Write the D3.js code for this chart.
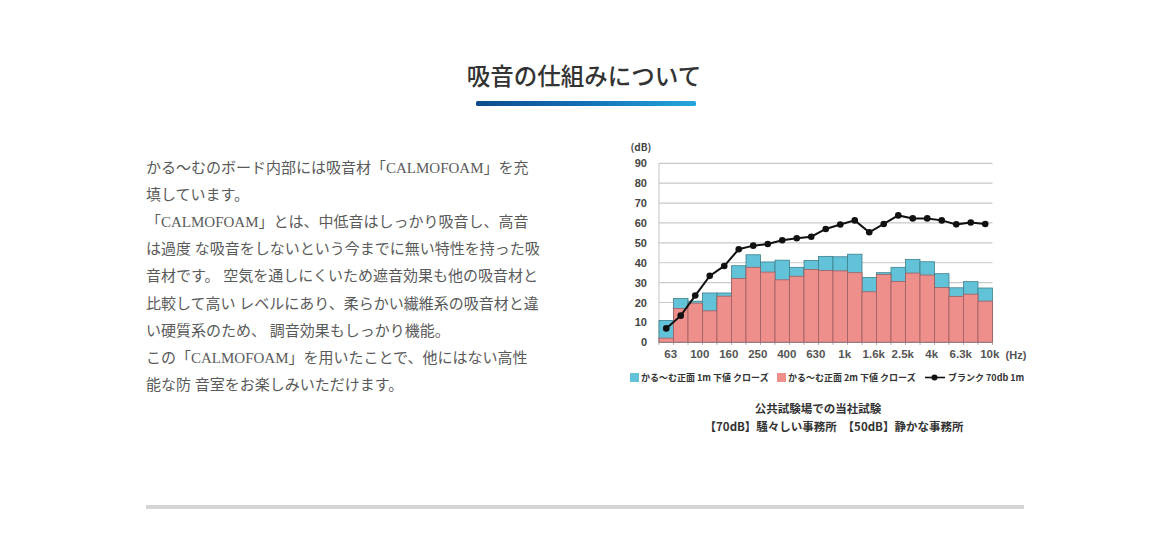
<!DOCTYPE html>
<html><head><meta charset="utf-8">
<script src="https://cdn.jsdelivr.net/npm/d3@7"></script>
<style>
html,body{margin:0;padding:0;background:#fff;}
svg{display:block;}
</style></head>
<body>
<svg id="c" width="1170" height="541"></svg>
<script>
// ---- data ----
const freqs = ["63","80","100","125","160","200","250","315","400","500","630","800","1k","1.25k","1.6k","2k","2.5k","3.15k","4k","5k","6.3k","8k","10k"];
const front1m = [11, 22, 20.7, 24.8, 24.8, 38.5, 44, 40.4, 41.3, 37.7, 41.1, 43.2, 43, 44.3, 32.6, 35, 37.7, 41.7, 40.5, 34.5, 27.4, 30.5, 27.3];
const front2m = [2.1, 17, 19.7, 15.8, 23.2, 32.1, 37.7, 35.3, 31.4, 33.2, 36.6, 36.1, 35.9, 35, 25.4, 34.1, 30.6, 34.8, 33.8, 27.5, 23.1, 24.2, 20.7];
const blank70 = [7, 13.4, 23.5, 33.4, 38.4, 46.8, 48.6, 49.4, 51.3, 52.3, 53.1, 57, 59.2, 61.3, 55.3, 59.5, 63.8, 62.3, 62.3, 61.3, 59.3, 60.2, 59.5];
const xTickLabels = ["63","100","160","250","400","630","1k","1.6k","2.5k","4k","6.3k","10k"];
const yTicks = [0,10,20,30,40,50,60,70,80,90];
const seriesNames = ["かる〜む正面 1m 下値 クローズ","かる〜む正面 2m 下値 クローズ","ブランク 70db 1m"];
const titleText = "吸音の仕組みについて";
const bodyLines = [
 "かる〜むのボード内部には吸音材「CALMOFOAM」を充",
 "填しています。",
 "「CALMOFOAM」とは、中低音はしっかり吸音し、高音",
 "は過度 な吸音をしないという今までに無い特性を持った吸",
 "音材です。 空気を通しにくいため遮音効果も他の吸音材と",
 "比較して高い レベルにあり、柔らかい繊維系の吸音材と違",
 "い硬質系のため、 調音効果もしっかり機能。",
 "この「CALMOFOAM」を用いたことで、他にはない高性",
 "能な防 音室をお楽しみいただけます。"
];
const captionLines = ["公共試験場での当社試験","【70dB】騒々しい事務所　【50dB】静かな事務所"];

// ---- drawing ----
const svg = d3.select("#c");
const JP = "'Liberation Serif','Noto Sans CJK JP',serif";
const SANS = "'Noto Sans CJK JP','Noto Sans',sans-serif";

// title
svg.append("text").attr("x",584).attr("y",85).attr("text-anchor","middle")
  .attr("font-family",JP).attr("font-size",23.5).attr("font-weight",500).attr("fill","#333").text(titleText);
const defs = svg.append("defs");
const g1 = defs.append("linearGradient").attr("id","tg").attr("x1","0").attr("x2","1");
g1.append("stop").attr("offset","0").attr("stop-color","#0d4c8e");
g1.append("stop").attr("offset","0.5").attr("stop-color","#1470b6");
g1.append("stop").attr("offset","1").attr("stop-color","#25a6dc");
svg.append("rect").attr("x",476).attr("y",101).attr("width",220).attr("height",5).attr("rx",1.5).attr("fill","url(#tg)");

// body text
svg.append("g").selectAll("text").data(bodyLines).join("text")
  .attr("x",146).attr("y",(d,i)=>173+i*27.1)
  .attr("font-family",JP).attr("font-size",15).attr("fill","#5a5a5a").text(d=>d);

// bottom rule
svg.append("rect").attr("x",146).attr("y",505).attr("width",878).attr("height",4).attr("fill","#d5d5d5");

// chart
const x = d3.scaleBand().domain(freqs).range([659,992.5]).padding(0);
const y = d3.scaleLinear().domain([0,90]).range([342.3,163.3]);

// grid
svg.append("g").selectAll("line").data(yTicks.slice(1)).join("line")
  .attr("x1",659).attr("x2",992.5).attr("y1",d=>y(d)).attr("y2",d=>y(d))
  .attr("stroke","#c9c9c9").attr("stroke-width",1.2);
svg.append("line").attr("x1",659).attr("x2",659).attr("y1",y(90)).attr("y2",y(0)).attr("stroke","#c4c4c4");

// y axis labels
const yAxis = d3.axisLeft(y).tickValues(yTicks).tickSize(0).tickPadding(12);
const ya = svg.append("g").attr("transform","translate(659,0)").call(yAxis);
ya.select(".domain").remove();
ya.selectAll("text").attr("font-family","'Liberation Sans','Noto Sans',sans-serif").attr("font-size",11).attr("font-weight","bold").attr("fill","#444");
svg.append("text").attr("x",641).attr("y",151).attr("text-anchor","middle")
  .attr("font-family",SANS).attr("font-size",10).attr("font-weight","bold").attr("fill","#444").text("(dB)");

// bars
svg.append("g").selectAll("rect").data(freqs).join("rect")
  .attr("x",d=>x(d)).attr("width",x.bandwidth())
  .attr("y",(d,i)=>y(front1m[i])).attr("height",(d,i)=>y(0)-y(front1m[i]))
  .attr("fill","#62c3d8").attr("stroke","#3d7f8c").attr("stroke-width",0.8);
svg.append("g").selectAll("rect").data(freqs).join("rect")
  .attr("x",d=>x(d)).attr("width",x.bandwidth())
  .attr("y",(d,i)=>y(front2m[i])).attr("height",(d,i)=>y(0)-y(front2m[i]))
  .attr("fill","#ef8f8c").attr("stroke","#9c5e62").attr("stroke-width",0.8);

// x axis
const xAxis = d3.axisBottom(x).tickValues(xTickLabels).tickSize(0).tickPadding(8);
const xa = svg.append("g").attr("transform",`translate(4.5,${y(0)})`).call(xAxis);
xa.select(".domain").remove();
xa.selectAll("text").attr("font-family","'Liberation Sans','Noto Sans',sans-serif").attr("font-size",11.5).attr("font-weight","bold").attr("fill","#555");
svg.append("line").attr("x1",659).attr("x2",992.5).attr("y1",y(0)).attr("y2",y(0)).attr("stroke","#9a8080").attr("stroke-width",1);
svg.append("g").selectAll("line").data(freqs.concat(["end"])).join("line")
  .attr("x1",(d,i)=>659+i*x.bandwidth()).attr("x2",(d,i)=>659+i*x.bandwidth())
  .attr("y1",y(0)).attr("y2",y(0)+2.5).attr("stroke","#a08888").attr("stroke-width",0.8);
svg.append("text").attr("x",1016).attr("y",y(0)+16.5).attr("text-anchor","middle")
  .attr("font-family","'Liberation Sans','Noto Sans',sans-serif").attr("font-size",11).attr("font-weight","bold").attr("fill","#555").text("(Hz)");

// line
const line = d3.line().x((d,i)=>x(freqs[i])+x.bandwidth()/2).y(d=>y(d));
svg.append("path").datum(blank70).attr("d",line).attr("fill","none").attr("stroke","#111").attr("stroke-width",2);
svg.append("g").selectAll("circle").data(blank70).join("circle")
  .attr("cx",(d,i)=>x(freqs[i])+x.bandwidth()/2).attr("cy",d=>y(d)).attr("r",3.3).attr("fill","#111");

// legend
const lg = svg.append("g").attr("font-family",SANS).attr("font-size",9).attr("font-weight","bold").attr("fill","#333");
lg.append("rect").attr("x",630).attr("y",373).attr("width",9).attr("height",9).attr("fill","#62c3d8");
lg.append("text").attr("x",641).attr("y",381).text(seriesNames[0]);
lg.append("rect").attr("x",777).attr("y",373).attr("width",9).attr("height",9).attr("fill","#ef8f8c");
lg.append("text").attr("x",788).attr("y",381).text(seriesNames[1]);
lg.append("line").attr("x1",925).attr("x2",945).attr("y1",377.5).attr("y2",377.5).attr("stroke","#111").attr("stroke-width",1.6);
lg.append("circle").attr("cx",934.5).attr("cy",377.5).attr("r",3).attr("fill","#111");
lg.append("text").attr("x",948).attr("y",381).text(seriesNames[2]);

// caption
svg.append("text").attr("x",818).attr("y",413).attr("text-anchor","middle")
  .attr("font-family",SANS).attr("font-size",11.5).attr("font-weight","bold").attr("fill","#333").text(captionLines[0]);
svg.append("text").attr("x",834).attr("y",431).attr("text-anchor","middle")
  .attr("font-family",SANS).attr("font-size",11.5).attr("font-weight","bold").attr("fill","#333").text(captionLines[1]);
</script>
</body></html>
